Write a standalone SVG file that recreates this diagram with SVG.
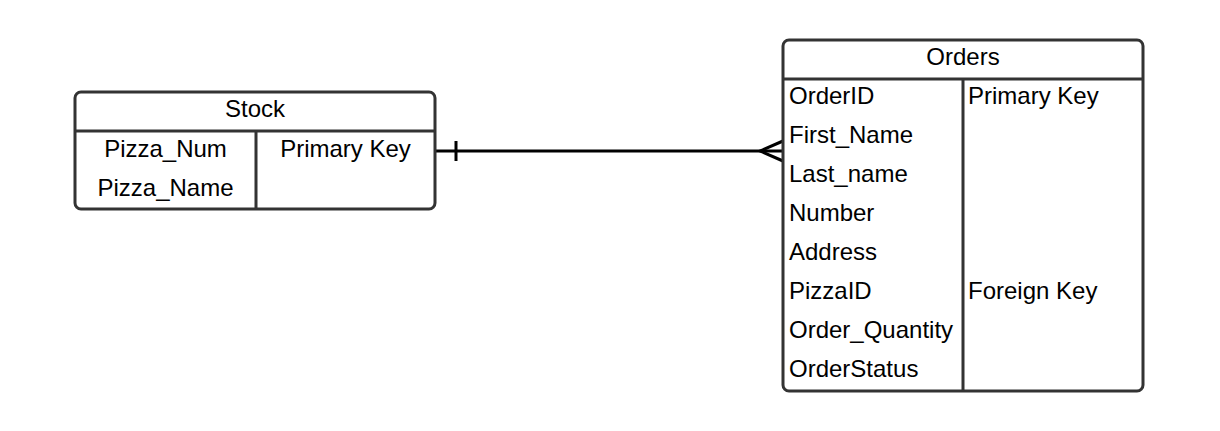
<svg xmlns="http://www.w3.org/2000/svg" width="1220" height="431" viewBox="0 0 1220 431">
<style>
.box{fill:#fff;stroke:#333;stroke-width:3}
.div{stroke:#333;stroke-width:3;fill:none}
.t{font-family:"Liberation Sans",Arial,sans-serif;font-size:24px;fill:#000}
.c{text-anchor:middle}
.conn{stroke:#000;stroke-width:3;fill:none}
</style>
<rect width="1220" height="431" fill="#fff"/>
<g id="connectors">
<path class="conn" d="M435 151 H783"/>
<path class="conn" d="M456 141 V161"/>
<path class="conn" d="M783 141 L760 151 L783 161"/>
</g>
<g id="stock">
<rect class="box" x="75" y="92" width="360" height="117" rx="6"/>
<path class="div" d="M75 131 H435 M256 131 V209"/>
<text class="t c" x="255" y="117">Stock</text>
<text class="t c" x="165.5" y="157">Pizza_Num</text>
<text class="t c" x="165.5" y="196">Pizza_Name</text>
<text class="t c" x="345.5" y="157">Primary Key</text>
</g>
<g id="orders">
<rect class="box" x="783" y="40" width="360" height="351" rx="6"/>
<path class="div" d="M783 79 H1143 M963 79 V391"/>
<text class="t c" x="963" y="65">Orders</text>
<text class="t" x="789" y="104">OrderID</text>
<text class="t" x="789" y="143">First_Name</text>
<text class="t" x="789" y="182">Last_name</text>
<text class="t" x="789" y="221">Number</text>
<text class="t" x="789" y="260">Address</text>
<text class="t" x="789" y="299">PizzaID</text>
<text class="t" x="789" y="338">Order_Quantity</text>
<text class="t" x="789" y="377">OrderStatus</text>
<text class="t" x="968" y="104">Primary Key</text>
<text class="t" x="968" y="299">Foreign Key</text>
</g>
</svg>
